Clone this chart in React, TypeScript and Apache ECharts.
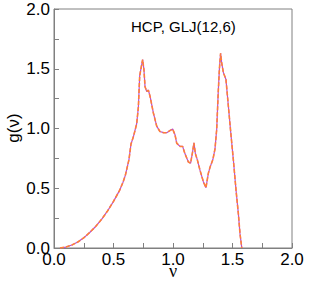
import React, { useEffect, useRef } from "react";
import * as echarts from "echarts";

const nu: number[] = [
  0.05, 0.1, 0.15, 0.2, 0.25, 0.3, 0.35, 0.4, 0.45, 0.5, 0.55, 0.58, 0.6, 0.63, 0.647, 0.667, 0.695, 0.709, 0.72,
  0.737, 0.745, 0.756, 0.765, 0.779, 0.793, 0.807, 0.835, 0.863, 0.89, 0.92, 0.947, 0.97, 0.997, 1.017, 1.031,
  1.059, 1.081, 1.1, 1.129, 1.148, 1.165, 1.176, 1.188, 1.204, 1.227, 1.255, 1.277, 1.297, 1.311, 1.335, 1.353,
  1.367, 1.38, 1.39, 1.4, 1.409, 1.423, 1.445, 1.465, 1.485, 1.507, 1.53, 1.549, 1.563, 1.578,
];
const gnu: number[] = [
  0, 0.008, 0.025, 0.05, 0.085, 0.13, 0.18, 0.24, 0.31, 0.39, 0.48, 0.55, 0.61, 0.74, 0.87, 0.93, 1.04, 1.18, 1.44,
  1.535, 1.577, 1.49, 1.35, 1.31, 1.32, 1.27, 1.13, 1.02, 0.975, 0.965, 0.965, 0.98, 0.995, 0.947, 0.877,
  0.85, 0.85, 0.79, 0.72, 0.71, 0.807, 0.88, 0.79, 0.74, 0.65, 0.555, 0.505, 0.625, 0.675, 0.74, 0.83,
  0.99, 1.3, 1.5, 1.63, 1.55, 1.47, 1.41, 1.19, 0.97, 0.74, 0.48, 0.29, 0.12, 0,
];
const title = "HCP, GLJ(12,6)";
const xName = "ν";
const yName = "g(ν)";

export default function App() {
  const ref = useRef<HTMLDivElement>(null);
  useEffect(() => {
    if (!ref.current) return;
    const chart = echarts.init(ref.current, null, { renderer: "svg" });
    const pts = nu.map((x, i) => [x, gnu[i]]);
    const font = "'Liberation Sans', Arial, sans-serif";
    const axisCommon = {
      type: "value" as const,
      min: 0,
      max: 2,
      interval: 0.5,
      axisLine: { show: true, lineStyle: { color: "#808080", width: 1 } },
      axisTick: { show: true, inside: true, length: 5, lineStyle: { color: "#808080" } },
      minorTick: { show: true, splitNumber: 2, length: 5, lineStyle: { color: "#808080" } },
      splitLine: { show: false },
      axisLabel: {
        color: "#000",
        fontSize: 17,
        fontFamily: font,
        formatter: (v: number) => v.toFixed(1),
      },
    };
    chart.setOption({
      animation: false,
      backgroundColor: "#fff",
      grid: {
        left: 54,
        right: 18,
        top: 9,
        bottom: 33,
        show: true,
        borderColor: "#808080",
        borderWidth: 1,
      },
      xAxis: { ...axisCommon, axisLabel: { ...axisCommon.axisLabel, margin: 3 } },
      yAxis: { ...axisCommon, axisLabel: { ...axisCommon.axisLabel, margin: 4 } },
      series: [
        {
          type: "line",
          data: pts,
          showSymbol: false,
          symbol: "none",
          lineStyle: { color: "#b84fd0", width: 1.2 },
          z: 2,
        },
        {
          type: "line",
          data: pts,
          showSymbol: false,
          symbol: "none",
          lineStyle: { color: "#ff8038", width: 1.6, type: [4, 2] },
          z: 3,
        },
      ],
      graphic: [
        {
          type: "text",
          left: 131,
          top: 19,
          style: { text: title, fontSize: 15, fontFamily: font, fill: "#000" },
        },
        {
          type: "text",
          x: 173,
          y: 271,
          style: {
            text: xName,
            fontSize: 18,
            fontFamily: "'Liberation Serif', 'DejaVu Serif', serif",
            fill: "#000",
            align: "center",
            verticalAlign: "middle",
          },
        },
        {
          type: "text",
          x: 13,
          y: 128,
          rotation: Math.PI / 2,
          style: {
            text: yName,
            fontSize: 17,
            fontFamily: font,
            fill: "#000",
            align: "center",
            verticalAlign: "middle",
          },
        },
      ],
    });
    return () => chart.dispose();
  }, []);
  return <div ref={ref} style={{ width: 310, height: 281, position: "absolute", left: 0, top: 0 }} />;
}
